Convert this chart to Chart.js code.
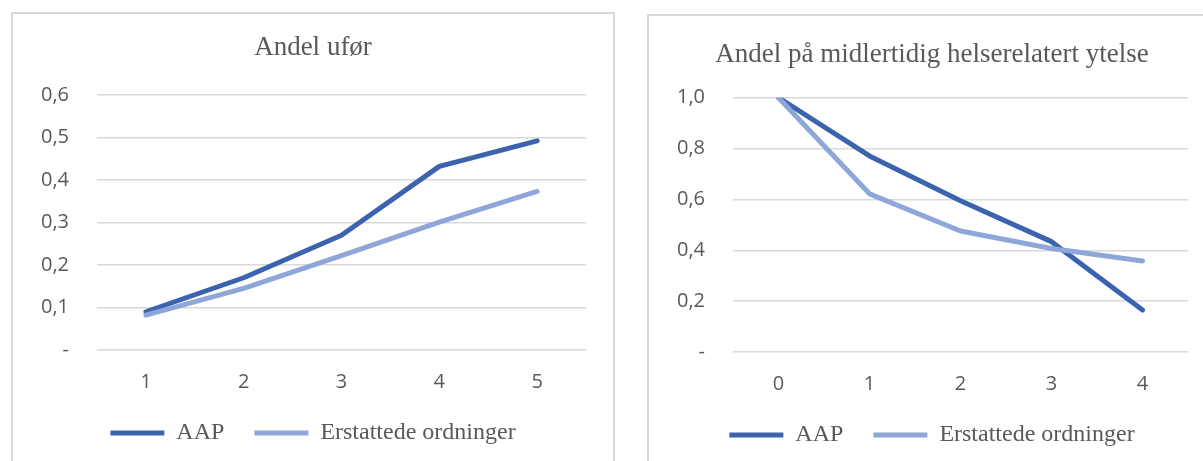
<!DOCTYPE html>
<html lang="no">
<head>
<meta charset="UTF-8">
<title>Andel ufør / midlertidig helserelatert ytelse</title>
<script src="https://cdn.jsdelivr.net/npm/chart.js"></script>
<style>
  body { margin: 0; background: #fff; width: 1203px; height: 461px; overflow: hidden; position: relative; }
  .panel { position: absolute; border: 2px solid #d9d9d9; background: #fff; }
  #venstre { left: 11px; top: 12px; width: 600px; height: 460px; }
  #hoyre { left: 647px; top: 14px; width: 566px; height: 460px; }
</style>
</head>
<body>
<div class="panel" id="venstre"><canvas id="grafUfor"></canvas></div>
<div class="panel" id="hoyre"><canvas id="grafMidl"></canvas></div>

<script>
// Andel ufør
const aarUfor = ['1', '2', '3', '4', '5'];
const uforAAP = [0.09, 0.17, 0.27, 0.432, 0.492];
const uforErstattede = [0.082, 0.145, 0.222, 0.301, 0.373];

// Andel på midlertidig helserelatert ytelse
const aarMidl = ['0', '1', '2', '3', '4'];
const midlAAP = [1.0, 0.771, 0.595, 0.434, 0.165];
const midlErstattede = [1.0, 0.622, 0.476, 0.407, 0.358];

const serieNavn = ['AAP', 'Erstattede ordninger'];
const farger = ['#3c64ae', '#8fa6d8'];
const tekstFarge = '#595959';

function tallTekst(v) {
    if (Math.abs(v) < 1e-9) return '-';
    return v.toFixed(1).replace('.', ',');
}

function lagGraf(id, tittel, labels, aap, erst, maks, steg, tittelPad) {
    const dados = {
        labels: labels,
        datasets: [
            { label: serieNavn[0], data: aap, borderColor: farger[0], backgroundColor: farger[0], order: 1 },
            { label: serieNavn[1], data: erst, borderColor: farger[1], backgroundColor: farger[1], order: 0 }
        ]
    };
    dados.datasets.forEach(function (d) {
        d.borderWidth = 5;
        d.pointRadius = 0;
        d.tension = 0;
        d.borderCapStyle = 'round';
        d.borderJoinStyle = 'round';
        d.pointStyle = 'line';
    });

    return new Chart(document.getElementById(id), {
        type: 'line',
        data: dados,
        options: {
            responsive: true,
            maintainAspectRatio: false,
            animation: false,
            // lik padding på begge sider, så tittel og forklaring står midt i rammen
            layout: { padding: { left: 27, right: 27, top: 0, bottom: 19 } },
            plugins: {
                tooltip: { enabled: false },
                title: {
                    display: true,
                    text: tittel,
                    color: tekstFarge,
                    font: { family: 'Liberation Serif', size: 27, weight: 'normal' },
                    padding: tittelPad
                },
                legend: {
                    position: 'bottom',
                    labels: {
                        usePointStyle: true,
                        pointStyleWidth: 54,
                        padding: 30,
                        color: tekstFarge,
                        font: { family: 'Liberation Serif', size: 24 },
                        sort: function (a, b) { return a.datasetIndex - b.datasetIndex; }
                    }
                }
            },
            scales: {
                x: {
                    offset: true,
                    grid: { display: false, drawTicks: false },
                    border: { display: false },
                    ticks: { color: tekstFarge, padding: 20, font: { family: 'Open Sans', size: 20 } },
                    afterFit: function (s) { s.height = s.height - 23; }
                },
                y: {
                    min: 0,
                    max: maks,
                    border: { display: false },
                    grid: { color: '#d9d9d9', lineWidth: 1.5, drawTicks: false },
                    ticks: {
                        stepSize: steg,
                        color: tekstFarge,
                        padding: 28,
                        font: { family: 'Open Sans', size: 20 },
                        callback: function (v) { return tallTekst(v); }
                    },
                    afterFit: function (s) { s.width = 57; }
                }
            }
        }
    });
}

lagGraf('grafUfor', 'Andel ufør', aarUfor, uforAAP, uforErstattede, 0.6, 0.1, { top: 18, bottom: 30.6 });
lagGraf('grafMidl', 'Andel på midlertidig helserelatert ytelse', aarMidl, midlAAP, midlErstattede, 1.0, 0.2, { top: 23, bottom: 26.3 });
</script>
</body>
</html>
